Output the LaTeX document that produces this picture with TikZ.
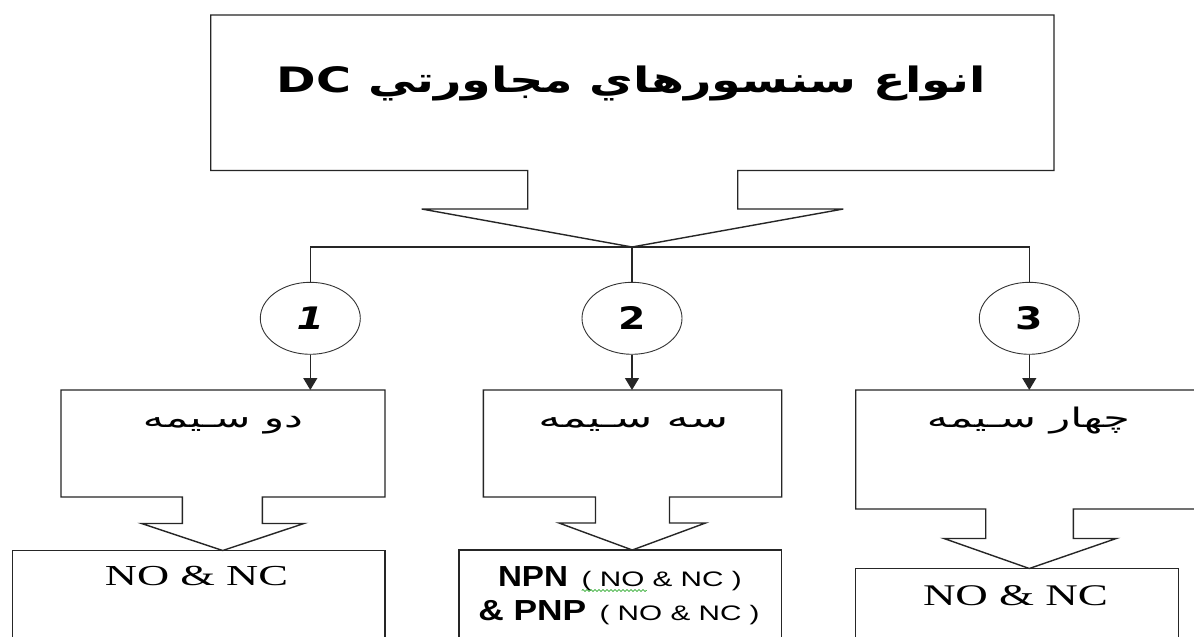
\documentclass[tikz,border=0pt]{standalone}
\usepackage{fontspec}
\usepackage{graphicx}
\usetikzlibrary{arrows.meta,shapes.geometric,decorations.pathmorphing}
\TeXXeTstate=1
\setmainfont{Liberation Serif}
\newfontfamily\arabicfont[Script=Arabic]{DejaVu Sans}
\newfontfamily\dejavu{DejaVu Sans}
\newfontfamily\arial{Liberation Sans}
\newcommand\hstretch[2]{\resizebox{#1}{\height}{#2}}
\begin{document}
\begin{tikzpicture}[x=1pt,y=-1pt,
  frame/.style={draw=black!85, line width=1.4pt, line join=miter},
  wire/.style={draw=black!85, line width=1.3pt},
  arr/.style={draw=black!85, line width=1.3pt, -{Triangle[width=14pt,length=12pt]}},
  circ/.style={ellipse, draw=black!80, line width=0.9pt, minimum width=100pt, minimum height=72pt, inner sep=0pt,
     font=\dejavu\bfseries\fontsize{31}{36}\selectfont},
  txt/.style={inner sep=0pt, outer sep=0pt},
  fa/.style={font=\arabicfont\fontsize{27}{32}\selectfont}]
\useasboundingbox (0,0) rectangle (1194,637);
\fill[white] (0,0) rectangle (1194,637);
\clip (0,0) rectangle (1194,637);

% top callout
\draw[frame] (210.7,15) -- (1054,15) -- (1054,170.5) -- (737.7,170.5) -- (737.7,209) -- (843.3,209)
  -- (632,247) -- (421.7,209) -- (527.7,209) -- (527.7,170.5) -- (210.7,170.5) -- cycle;
\coordinate (apex) at (632,247);
\node[txt, anchor=base] (title) at (631.5,92.3)
  {\hstretch{709pt}{\arabicfont\bfseries\fontsize{35}{40}\selectfont\beginR انواع سنسورهاي مجاورتي \beginL{\dejavu\bfseries DC}\endL\endR}};

% circles
\node[circ] (c1) at (310.3,318.3) {\scalebox{1.27}[1]{\itshape 1}};
\node[circ] (c2) at (632,318.3) {\scalebox{1.27}[1]{2}};
\node[circ] (c3) at (1029.3,318.3) {\scalebox{1.27}[1]{3}};

\draw[wire] (apex) -| (c1);
\draw[wire] (apex) -- (c2);
\draw[wire] (apex) -| (c3);

% box 1
\draw[frame] (61,390) -- (385,390) -- (385,497) -- (262.3,497) -- (262.3,523.5) -- (304,523.5)
  -- (222.7,550.5) -- (141.7,523.5) -- (182.3,523.5) -- (182.3,497) -- (61,497) -- cycle;
\coordinate (t1) at (310.3,390);
\node[txt, anchor=base] (b1) at (223,427)
  {\hstretch{160pt}{\arabicfont\fontsize{27}{32}\selectfont\beginR دو سـيمه\endR}};
\draw[frame] (12.3,660) -- (12.3,550.5) -- (385,550.5) -- (385,660);
\node[txt, anchor=base] (r1) at (196.5,585.7)
  {\hstretch{183pt}{\fontsize{29}{34}\selectfont NO \& NC}};

% box 2
\draw[frame] (483.3,390) -- (781.7,390) -- (781.7,497) -- (669.5,497) -- (669.5,523) -- (705.5,523)
  -- (632.3,550) -- (559,523) -- (595.5,523) -- (595.5,497) -- (483.3,497) -- cycle;
\coordinate (t2) at (632,390);
\node[txt, anchor=base] (b2) at (633.3,427)
  {\hstretch{190pt}{\arabicfont\fontsize{27}{32}\selectfont\beginR سه سـيمه\endR}};
\draw[frame] (459,660) -- (459,550) -- (781.7,550) -- (781.7,660);
\node[txt, anchor=base west] (r2a) at (498,586)
  {\hstretch{70pt}{\arial\bfseries\fontsize{29}{34}\selectfont NPN}\hspace{13.7pt}\hstretch{160pt}{\arial\fontsize{21}{25}\selectfont ( NO \& NC )}};
\node[txt, anchor=base west] (r2b) at (478.3,620)
  {\hstretch{108pt}{\arial\bfseries\fontsize{29}{34}\selectfont \& PNP}\hspace{13.3pt}\hstretch{160pt}{\arial\fontsize{21}{25}\selectfont ( NO \& NC )}};
\draw[green!60!black, line width=0.6pt, decorate, decoration={snake, segment length=4pt, amplitude=1pt}]
  (581.7,590.5) -- (646.7,590.5);

% box 3
\draw[frame] (855.7,390) -- (1203,390) -- (1203,509) -- (1073.3,509) -- (1073.3,538.5) -- (1116.2,538.5)
  -- (1029.3,568.5) -- (944,538.5) -- (985.7,538.5) -- (985.7,509) -- (855.7,509) -- cycle;
\coordinate (t3) at (1029.3,390);
\node[txt, anchor=base] (b3) at (1028.3,427)
  {\hstretch{203pt}{\arabicfont\fontsize{27}{32}\selectfont\beginR چهار سـيمه\endR}};
\draw[frame] (855.7,660) -- (855.7,568.5) -- (1178.5,568.5) -- (1178.5,660);
\node[txt, anchor=base] (r3) at (1015.5,605)
  {\hstretch{185pt}{\fontsize{30}{35}\selectfont NO \& NC}};

% arrows
\draw[arr] (c1) -- (t1);
\draw[arr] (c2) -- (t2);
\draw[arr] (c3) -- (t3);
\end{tikzpicture}
\end{document}
